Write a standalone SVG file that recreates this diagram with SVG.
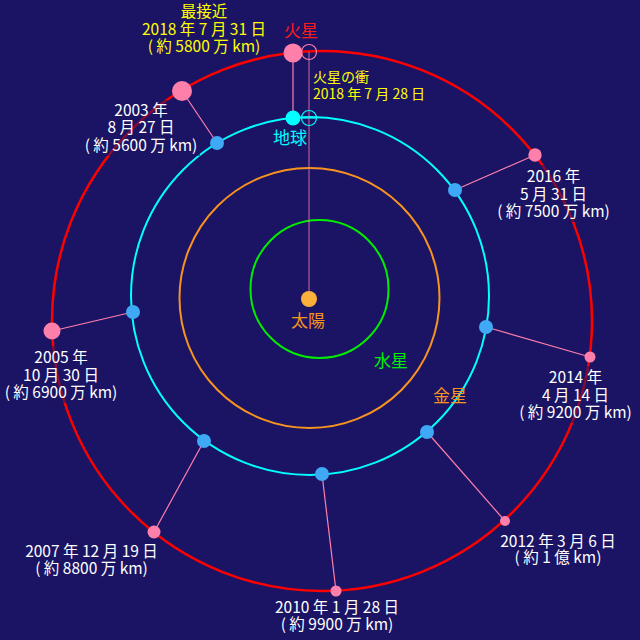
<svg xmlns="http://www.w3.org/2000/svg" width="640" height="640" viewBox="0 0 640 640">
<style>
text{font-family:"Noto Sans CJK JP","Noto Sans",sans-serif;}
.lbl{fill:#ffffff;font-size:15.5px;text-anchor:middle;}
.yel{fill:#ffff00;}
.box{fill:#1b1464;opacity:0.55;}
.mars{fill:#ff7fab;}
.earth{fill:#3fa9f5;}
.conn{stroke:#ff7fab;stroke-width:1.2;fill:none;}
.orbit{fill:none;}
</style>
<rect width="640" height="640" fill="#1b1464"/>
<g id="orbits">
<circle class="orbit" cx="322" cy="321" r="270" stroke="#ff0000" stroke-width="2.5"/>
<circle class="orbit" cx="310" cy="296" r="179" stroke="#00ffff" stroke-width="2"/>
<circle class="orbit" cx="309.5" cy="298" r="130" stroke="#f7931e" stroke-width="2"/>
<circle class="orbit" cx="319.5" cy="289" r="69" stroke="#00ee00" stroke-width="2"/>
</g>
<g id="label-boxes">
<rect class="box" x="82" y="100" width="118" height="56"/>
<rect class="box" x="2" y="346" width="118" height="57"/>
<rect class="box" x="495" y="165" width="118" height="57"/>
<rect class="box" x="516" y="366" width="120" height="57"/>
<rect class="box" x="20" y="540" width="143" height="39"/>
<rect class="box" x="270" y="596" width="133" height="39"/>
<rect class="box" x="496" y="530" width="124" height="38"/>
</g>
<g id="connectors">
<line class="conn" x1="293" y1="53" x2="293" y2="118"/>
<line x1="309" y1="52" x2="309" y2="299" stroke="#ff7fab" stroke-width="1" opacity="0.8"/>
<line class="conn" x1="182" y1="91" x2="217" y2="143"/>
<line class="conn" x1="535" y1="155" x2="455" y2="190"/>
<line class="conn" x1="590" y1="357" x2="486" y2="327"/>
<line class="conn" x1="505" y1="521" x2="427" y2="432"/>
<line class="conn" x1="336" y1="591" x2="322" y2="474"/>
<line class="conn" x1="154" y1="532" x2="204" y2="441"/>
<line class="conn" x1="52" y1="331" x2="133" y2="312"/>
</g>
<g id="sun">
<circle cx="309" cy="299" r="8" fill="#fbb03b"/>
<text x="308" y="327" font-size="17" fill="#f7931e" text-anchor="middle">太陽</text>
</g>
<g id="mercury"><text x="391" y="367" font-size="17" fill="#00ee00" text-anchor="middle">水星</text></g>
<g id="venus"><text x="450" y="402" font-size="17" fill="#f7931e" text-anchor="middle">金星</text></g>
<g id="earth">
<circle cx="293" cy="118" r="7.5" fill="#00ffff"/>
<text x="290" y="144" font-size="17" fill="#00ffff" text-anchor="middle">地球</text>
</g>
<g id="mars">
<circle cx="293" cy="53" r="9.5" fill="#ff7fab"/>
<text x="301" y="37" font-size="17" fill="#ff1a1a" text-anchor="middle">火星</text>
</g>
<g id="closest-2018">
<text class="lbl yel" x="204" y="17">最接近</text>
<text class="lbl yel" x="204" y="35">2018 年 7 月 31 日</text>
<text class="lbl yel" x="204" y="52">( 約 5800 万 km)</text>
</g>
<g id="opposition-2018">
<circle cx="309" cy="52" r="7.5" fill="none" stroke="#ff7fab" stroke-width="1.2"/>
<circle cx="309" cy="118" r="7.5" fill="none" stroke="#00ffff" stroke-width="1.2"/>
<line x1="301.5" y1="118" x2="316.5" y2="118" stroke="#00ffff" stroke-width="1.2"/>
<text x="313" y="82" font-size="14" class="yel">火星の衝</text>
<text x="313" y="99" font-size="14" class="yel">2018 年 7 月 28 日</text>
</g>
<g id="opp-2003">
<circle class="mars" cx="182" cy="91" r="10"/>
<circle class="earth" cx="217" cy="143" r="7"/>
<text class="lbl" x="141" y="116">2003 年</text>
<text class="lbl" x="141" y="133">8 月 27 日</text>
<text class="lbl" x="141" y="151">( 約 5600 万 km)</text>
</g>
<g id="opp-2005">
<circle class="mars" cx="52" cy="331" r="8.5"/>
<circle class="earth" cx="133" cy="312" r="7"/>
<text class="lbl" x="61" y="363">2005 年</text>
<text class="lbl" x="61" y="381">10 月 30 日</text>
<text class="lbl" x="61" y="398">( 約 6900 万 km)</text>
</g>
<g id="opp-2007">
<circle class="mars" cx="154" cy="532" r="6.5"/>
<circle class="earth" cx="204" cy="441" r="7"/>
<text class="lbl" x="91.5" y="557">2007 年 12 月 19 日</text>
<text class="lbl" x="91.5" y="574">( 約 8800 万 km)</text>
</g>
<g id="opp-2010">
<circle class="mars" cx="336" cy="591" r="5.5"/>
<circle class="earth" cx="322" cy="474" r="7"/>
<text class="lbl" x="337" y="613">2010 年 1 月 28 日</text>
<text class="lbl" x="337" y="630">( 約 9900 万 km)</text>
</g>
<g id="opp-2012">
<circle class="mars" cx="505" cy="521" r="5"/>
<circle class="earth" cx="427" cy="432" r="7"/>
<text class="lbl" x="558" y="547">2012 年 3 月 6 日</text>
<text class="lbl" x="558" y="563">( 約 1 億 km)</text>
</g>
<g id="opp-2014">
<circle class="mars" cx="590" cy="357" r="5.5"/>
<circle class="earth" cx="486" cy="327" r="7"/>
<text class="lbl" x="575.5" y="383">2014 年</text>
<text class="lbl" x="575.5" y="401">4 月 14 日</text>
<text class="lbl" x="575.5" y="418">( 約 9200 万 km)</text>
</g>
<g id="opp-2016">
<circle class="mars" cx="535" cy="155" r="6.7"/>
<circle class="earth" cx="455" cy="190" r="7"/>
<text class="lbl" x="553.5" y="182">2016 年</text>
<text class="lbl" x="553.5" y="200">5 月 31 日</text>
<text class="lbl" x="553.5" y="217">( 約 7500 万 km)</text>
</g>
</svg>
